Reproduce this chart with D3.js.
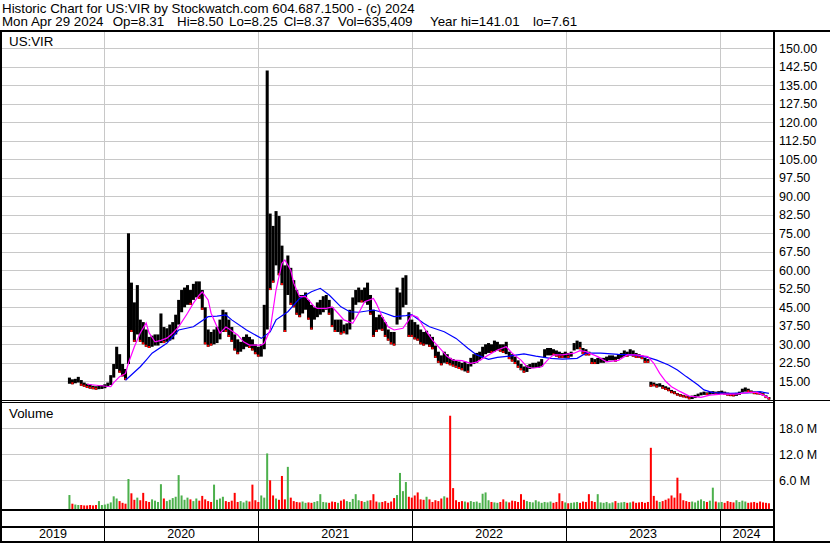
<!DOCTYPE html>
<html>
<head>
<meta charset="utf-8">
<script src="https://cdn.jsdelivr.net/npm/d3@7"></script>
<style>
body { margin: 0; background: #fff; }
svg { display: block; font-family: "Liberation Sans", Arial, sans-serif; }
</style>
</head>
<body>
<svg id="chart" width="830" height="543"></svg>
<script>
// weekly bars, first week ends Fri Oct 11 2019
const firstWeek = new Date(2019, 9, 11);

const priceHi = [16.5,15.8,16.0,16.8,15.5,14.5,14.0,13.8,13.2,13.0,13.5,13.4,13.8,14.5,17.5,22.0,29.0,26.0,22.0,20.0,
  75.0,55.0,47.0,54.0,40.0,39.0,36.0,33.0,33.5,34.0,34.0,42.5,37.0,36.5,38.0,39.0,42.0,48.0,52.0,53.0,
  54.0,52.0,54.5,55.5,55.5,52.0,45.0,36.0,35.0,36.0,37.0,40.0,44.0,43.0,40.0,37.0,34.0,32.0,31.0,33.0,
  34.0,33.0,32.0,30.0,29.0,30.0,46.0,141.0,83.0,78.0,84.0,82.0,70.0,62.0,66.0,61.0,56.0,52.0,50.0,50.0,
  51.0,48.0,46.0,45.0,47.0,48.0,49.5,50.0,48.0,45.0,40.0,40.0,40.0,38.0,38.5,44.0,49.0,52.0,53.0,52.0,
  53.0,55.0,50.0,44.0,41.0,42.0,41.0,39.0,36.0,35.0,35.0,53.0,51.0,57.0,58.0,43.0,40.0,39.0,38.0,36.0,
  35.0,35.5,34.0,33.0,29.5,27.0,25.5,27.0,26.0,24.5,24.0,23.5,23.0,22.5,23.0,22.0,24.5,26.0,26.5,27.0,
  29.0,30.0,30.5,30.0,31.5,31.0,30.0,30.0,31.0,27.0,26.0,25.0,23.5,22.0,21.0,21.5,22.0,22.5,22.5,23.0,
  24.0,28.0,28.5,28.5,28.0,27.5,27.0,26.5,27.0,26.5,27.0,30.5,31.5,31.0,28.5,28.0,27.0,24.5,24.0,24.5,
  24.5,24.5,25.0,25.5,25.5,25.0,26.0,26.5,27.5,27.0,28.0,27.5,26.5,26.0,25.5,24.5,24.0,14.8,14.5,14.0,
  14.2,13.5,13.0,12.5,11.5,11.0,10.2,9.8,9.5,9.2,9.0,9.2,9.5,10.0,10.5,10.8,10.5,10.8,11.0,10.8,
  11.0,11.2,10.8,10.4,10.2,10.0,10.3,10.8,12.0,12.5,12.0,11.3,10.9,10.8,10.6,10.2,9.3,8.6];

const priceLo = [14.0,13.8,14.2,14.5,13.2,12.8,12.3,12.0,11.8,11.6,11.8,11.9,12.2,12.8,13.5,16.5,20.0,18.5,17.0,15.5,
  22.0,35.0,31.0,34.0,31.0,30.0,29.0,28.5,29.0,29.5,29.5,30.5,30.5,31.0,31.5,32.0,34.0,38.0,43.0,45.0,
  46.0,46.0,48.0,49.0,48.5,44.0,30.0,29.0,29.5,30.0,30.5,32.0,35.0,35.0,33.0,31.0,27.5,26.0,27.0,28.0,
  29.0,28.5,27.5,26.0,25.0,25.0,28.0,36.0,52.0,55.0,62.0,58.0,54.0,35.0,50.0,46.0,45.0,42.0,41.0,42.5,
  44.0,40.0,36.0,40.0,41.0,42.0,43.0,44.0,42.0,37.0,35.0,35.0,34.0,34.5,34.0,36.0,40.0,46.0,47.0,47.0,
  47.0,46.0,42.0,33.0,35.0,36.0,35.5,33.0,31.5,30.0,29.5,38.0,40.0,45.0,46.0,33.0,33.0,32.0,31.5,30.0,
  29.5,30.0,29.0,28.0,24.5,22.5,21.5,22.5,22.0,21.5,21.0,20.5,20.0,19.5,19.0,18.5,21.0,22.0,22.5,23.5,
  24.5,26.0,26.5,26.5,27.0,27.5,27.0,26.5,26.0,24.0,23.0,22.0,20.5,19.5,18.5,18.8,20.0,20.5,20.5,20.5,
  21.0,24.5,25.5,25.5,25.5,25.0,24.5,24.5,24.5,24.5,25.0,27.5,28.0,28.0,26.0,25.5,25.5,22.0,22.0,22.0,
  22.5,22.5,23.0,23.5,23.5,23.0,24.0,24.5,25.0,25.0,25.5,25.0,24.5,24.5,24.0,22.5,22.5,12.8,13.0,12.5,
  12.8,12.0,11.5,11.0,10.2,9.8,9.2,8.8,8.5,8.2,7.7,7.8,8.2,8.8,9.3,9.5,9.4,9.6,9.8,9.6,
  9.8,9.9,9.6,9.2,9.0,8.9,9.1,9.5,10.5,10.8,10.6,10.2,9.8,9.7,9.5,9.2,8.2,7.61];

// weekly volume, millions of shares
const volume = [2.6,0.6,0.4,0.3,0.3,0.2,0.2,0.3,0.2,0.3,1.2,0.3,
  0.4,0.6,0.9,2.3,1.8,1.2,0.8,0.6,
  6.3,3.0,1.5,2.0,1.4,3.1,1.2,1.0,1.6,1.3,1.0,
  5.1,1.8,1.2,1.5,1.9,2.2,7.2,2.5,1.5,2.0,
  1.6,1.2,1.8,1.3,2.4,1.6,1.2,1.0,5.0,1.5,
  1.8,2.2,1.2,1.0,1.3,3.1,1.0,1.2,0.9,1.3,
  1.1,5.0,1.4,1.0,2.5,2.0,12.2,6.0,2.5,1.8,
  1.5,7.0,1.6,9.1,2.0,1.2,1.0,0.9,1.1,0.8,
  0.9,0.8,1.0,1.2,2.8,1.0,0.9,0.8,1.1,1.0,
  0.8,1.3,1.6,1.2,1.0,1.7,2.8,1.4,1.2,1.0,
  1.3,1.4,2.8,1.1,0.9,1.0,1.2,0.8,1.1,1.9,
  2.6,7.7,3.5,5.6,2.2,2.0,2.5,3.2,1.6,1.5,
  2.2,1.6,1.0,1.4,1.2,1.8,2.3,2.0,20.9,4.2,
  1.4,1.0,1.2,1.1,0.9,1.2,1.0,1.1,0.8,2.9,
  3.2,1.4,1.0,0.9,0.8,1.0,1.6,1.1,0.9,1.3,
  1.2,1.0,2.8,1.5,1.2,1.0,0.9,1.4,1.1,0.8,
  1.0,0.9,1.1,0.8,1.0,3.0,1.2,0.9,0.7,0.8,
  0.9,1.0,0.8,1.1,1.0,2.8,1.2,1.0,2.8,0.9,
  0.8,1.0,0.7,0.9,1.2,0.8,0.9,1.0,0.8,0.9,
  1.1,0.8,0.9,1.0,0.8,1.0,13.5,2.4,1.3,1.0,
  1.2,1.5,1.8,2.5,2.0,6.6,3.0,1.4,1.2,1.0,
  1.1,0.9,1.3,1.6,1.2,1.0,1.3,4.3,1.1,0.9,
  1.0,0.8,1.2,1.0,0.9,1.4,1.0,1.3,1.1,0.8,
  0.9,1.0,0.8,1.1,0.9,0.8,0.7];

// moving averages (week index, value)
const fastWeeks = [6,14,15,17,19,20,22,24,26,27,29,31,33,35,37,40,42,44,45,47,48,50,51,53,54,57,59,61,65,66,68,70,72,73,75,76,78,80,81,83,84,87,89,91,93,96,98,100,103,104,106,108,110,113,115,116,118,121,123,126,128,130,133,136,138,142,145,148,150,153,155,157,160,162,164,167,171,173,175,179,182,186,189,192,196,198,200,202,204,207,210,214,217,221,226,230,233,235,237];
const fastValues = [13.8,12.8,14.5,16.9,18.2,22.4,29,34.6,38.6,34.6,31,31.6,32.5,34.5,37.1,42.6,46.7,50,51.2,48,42.6,37.1,34.5,37,36.3,33.8,31,29.7,29.7,30.4,35.8,52,62.8,64.2,60,54.8,49.3,49.3,48,45.2,44.6,44.6,45.2,42.6,39.9,38.5,42.6,47.3,48.6,46.5,41.2,37.1,35.8,36.5,39.9,41.9,41,35.1,31.7,27.7,25,23.6,23.4,22.3,22.8,25.7,27.7,29,26.4,23.6,20.9,20.3,20.9,23.6,25.7,25.7,26.4,27.4,27,25,22.9,23.5,25.7,25.7,25,22.3,18.2,15,12.8,10.8,9,8.5,9.4,9.8,9.8,10.5,10.5,9.4,8.1];

const slowWeeks = [19,24,26,28,33,37,42,47,50,53,55,60,65,68,70,74,78,82,85,88,92,95,98,103,106,110,114,116,120,122,127,131,135,138,142,145,149,154,158,163,167,172,175,180,186,191,196,199,203,206,209,213,215,218,224,230,234,237];
const slowValues = [15.4,20.9,23.6,26.4,30.4,35.8,37.1,41.2,41.4,41.9,39.9,35.8,32.4,35,39.9,43.2,48.6,51.3,52.7,50,45.2,43.2,43,43.9,43,41.2,41.6,42,38.5,37.1,35.1,32.4,28.4,25.7,23.9,24.7,25.2,26.1,25.2,24.3,24,24.3,26.4,26.4,25.9,25.7,24.7,23.6,21.6,19.6,16.9,13.5,11.5,10.4,10.1,10.3,10.8,10.1];

const priceTicks = [15,22.5,30,37.5,45,52.5,60,67.5,75,82.5,90,97.5,105,112.5,120,127.5,135,142.5,150];
const volTicks = [6,12,18];
const years = [2019,2020,2021,2022,2023,2024];

const headerLine1 = "Historic Chart for US:VIR by Stockwatch.com 604.687.1500 - (c) 2024";
const headerLine2 = ["Mon Apr 29 2024","Op=8.31","Hi=8.50","Lo=8.25","Cl=8.37","Vol=635,409","Year hi=141.01","lo=7.61"];

// ---------- layout
const W = 830, H = 543;
const plotL = 2, plotR = 773;
const priceTop = 32, priceBot = 400;
const volTop = 403, volBot = 509.5;
const grid = "#c8c8c8";

const svg = d3.select("#chart");
svg.append("rect").attr("width", W).attr("height", H).attr("fill", "#fff");

const x = d3.scaleTime()
    .domain([new Date(2020, 0, 1), new Date(2024, 0, 1)])
    .range([104, 720]);
const y = d3.scaleLinear().domain([15, 150]).range([381.3, 48.3]);
const yv = d3.scaleLinear().domain([0, 18]).range([506.3, 428.3]);

const weeks = priceHi.map((_, i) => d3.timeDay.offset(firstWeek, 7 * i));
const bars = weeks.map((d, i) => ({
    date: d, hi: priceHi[i], lo: priceLo[i], vol: volume[i],
    down: i > 0 && (priceHi[i] + priceLo[i]) < (priceHi[i - 1] + priceLo[i - 1])
}));

const yearStarts = years.slice(1).map(yr => x(new Date(yr, 0, 1)));

// ---------- grid
const g = svg.append("g");
priceTicks.forEach(t => {
    const yy = Math.round(y(t)) + 0.5;
    g.append("line").attr("x1", plotL).attr("x2", plotR).attr("y1", yy).attr("y2", yy)
        .attr("stroke", grid).attr("stroke-width", 1);
});
volTicks.forEach(t => {
    const yy = Math.round(yv(t)) + 0.5;
    g.append("line").attr("x1", plotL).attr("x2", plotR).attr("y1", yy).attr("y2", yy)
        .attr("stroke", grid).attr("stroke-width", 1);
});
yearStarts.forEach(xx => {
    const px = Math.round(xx) + 0.5;
    g.append("line").attr("x1", px).attr("x2", px).attr("y1", priceTop).attr("y2", priceBot)
        .attr("stroke", grid);
    g.append("line").attr("x1", px).attr("x2", px).attr("y1", volTop).attr("y2", volBot)
        .attr("stroke", grid);
});

// ---------- price
svg.append("clipPath").attr("id", "pclip").append("rect")
    .attr("x", plotL).attr("y", priceTop).attr("width", plotR - plotL).attr("height", priceBot - priceTop);
const pg = svg.append("g").attr("clip-path", "url(#pclip)");

pg.selectAll(".bar").data(bars).enter().append("rect")
    .attr("x", d => x(d.date) - 1.5)
    .attr("width", 3.05)
    .attr("y", d => y(d.hi))
    .attr("height", d => Math.max(1, y(d.lo) - y(d.hi)))
    .attr("fill", "#000");

pg.selectAll(".tick-red").data(bars.filter(d => d.down)).enter().append("rect")
    .attr("x", d => x(d.date) - 1)
    .attr("width", 2)
    .attr("y", d => y(d.lo) - 2)
    .attr("height", 2)
    .attr("fill", "#ff0000");

const lineFor = d3.line().x(d => x(weeks[d[0]])).y(d => y(d[1]));
pg.append("path")
    .datum(slowWeeks.map((w, i) => [w, slowValues[i]]))
    .attr("d", lineFor).attr("fill", "none").attr("stroke", "#0000ff").attr("stroke-width", 1.2);
pg.append("path")
    .datum(fastWeeks.map((w, i) => [w, fastValues[i]]))
    .attr("d", lineFor).attr("fill", "none").attr("stroke", "#ff00ff").attr("stroke-width", 1.2);

// ---------- volume
svg.append("g").selectAll("rect").data(bars).enter().append("rect")
    .attr("x", d => x(d.date) - 1)
    .attr("width", 2)
    .attr("y", d => yv(d.vol))
    .attr("height", d => volBot - yv(d.vol))
    .attr("fill", d => d.down ? "#ff0000" : "#4cb04c");

// ---------- frame
const frame = svg.append("g").attr("fill", "#000");
frame.append("rect").attr("x", 0).attr("y", 30).attr("width", W).attr("height", 2);
frame.append("rect").attr("x", 0).attr("y", 30).attr("width", 2).attr("height", H - 30);
frame.append("rect").attr("x", plotR).attr("y", 30).attr("width", 2).attr("height", H - 30);
frame.append("rect").attr("x", 0).attr("y", 400).attr("width", W).attr("height", 1);
frame.append("rect").attr("x", 0).attr("y", 402).attr("width", plotR).attr("height", 1);
frame.append("rect").attr("x", 0).attr("y", 509).attr("width", plotR).attr("height", 2);
frame.append("rect").attr("x", 0).attr("y", 526).attr("width", plotR).attr("height", 2);
frame.append("rect").attr("x", 0).attr("y", 541).attr("width", W).attr("height", 2);
yearStarts.forEach(xx => {
    frame.append("rect").attr("x", Math.round(xx)).attr("y", 511).attr("width", 1).attr("height", 30);
});

// ---------- text
const txt = svg.append("g").attr("fill", "#000");
txt.append("text").attr("x", 2).attr("y", 12.5).attr("font-size", 13.33).text(headerLine1);
const l2x = [2, 112.7, 177, 229, 283.7, 338, 430, 533];
headerLine2.forEach((s, i) => {
    txt.append("text").attr("x", l2x[i]).attr("y", 26).attr("font-size", 13.33).text(s);
});
txt.append("text").attr("x", 9).attr("y", 46).attr("font-size", 13.33).text("US:VIR");
txt.append("text").attr("x", 9).attr("y", 418).attr("font-size", 13.33).text("Volume");

priceTicks.forEach(t => {
    txt.append("text").attr("x", 779).attr("y", y(t)).attr("dy", "0.36em")
        .attr("font-size", 12.5).text(d3.format(".2f")(t));
});
volTicks.forEach(t => {
    txt.append("text").attr("x", 779).attr("y", yv(t)).attr("dy", "0.36em")
        .attr("font-size", 12.5).text(d3.format(".1f")(t) + " M");
});

const bounds = [plotL].concat(yearStarts).concat([plotR]);
years.forEach((yr, i) => {
    txt.append("text").attr("x", (bounds[i] + bounds[i + 1]) / 2).attr("y", 538)
        .attr("text-anchor", "middle").attr("font-size", 12.5).text(yr);
});
</script>
</body>
</html>
